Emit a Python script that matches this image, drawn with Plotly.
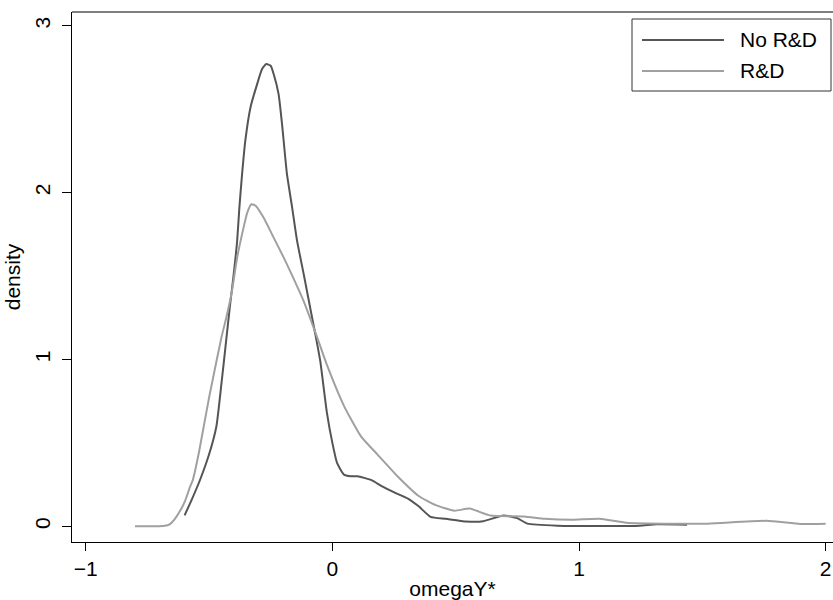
import plotly.graph_objects as go

# ---- data ----
no_rd_x = [-0.599, -0.57, -0.537, -0.5, -0.47, -0.45, -0.43, -0.416, -0.4, -0.386, -0.377,
           -0.366, -0.353, -0.332, -0.305, -0.285, -0.268, -0.25, -0.238, -0.218, -0.204,
           -0.184, -0.163, -0.143, -0.116, -0.09, -0.065, -0.049, -0.022, 0.0, 0.019, 0.047,
           0.075, 0.102, 0.157, 0.198, 0.253, 0.308, 0.35, 0.398, 0.46, 0.543, 0.612, 0.694,
           0.749, 0.791, 0.914, 1.107, 1.245, 1.314, 1.438]
no_rd_y = [0.066, 0.16, 0.276, 0.43, 0.6, 0.85, 1.12, 1.31, 1.51, 1.71, 1.91,
           2.11, 2.31, 2.51, 2.65, 2.74, 2.77, 2.76, 2.71, 2.59, 2.41,
           2.11, 1.91, 1.71, 1.51, 1.31, 1.12, 0.99, 0.68, 0.50, 0.38, 0.31,
           0.30, 0.30, 0.278, 0.243, 0.202, 0.165, 0.12, 0.057, 0.045, 0.029, 0.031, 0.065,
           0.049, 0.016, 0.004, 0.002, 0.004, 0.012, 0.01]

rd_x = [-0.8, -0.72, -0.68, -0.66, -0.643, -0.616, -0.596, -0.577, -0.566, -0.54, -0.5,
        -0.45, -0.43, -0.407, -0.386, -0.36, -0.345, -0.328, -0.31, -0.279, -0.238, -0.197,
        -0.159, -0.118, -0.066, -0.022, 0.047, 0.116, 0.185, 0.268, 0.35, 0.419, 0.495,
        0.557, 0.64, 0.778, 0.861, 0.971, 1.082, 1.192, 1.385, 1.523, 1.759, 1.897, 2.0]
rd_y = [0.0, 0.0, 0.003, 0.012, 0.036, 0.096, 0.156, 0.236, 0.276, 0.45, 0.77,
        1.13, 1.25, 1.41, 1.61, 1.79, 1.88, 1.93, 1.92, 1.85, 1.73, 1.61,
        1.49, 1.355, 1.15, 0.967, 0.722, 0.539, 0.427, 0.294, 0.182, 0.127, 0.094,
        0.106, 0.065, 0.059, 0.045, 0.039, 0.045, 0.022, 0.016, 0.016, 0.033, 0.014, 0.016]

x_ticks = [-1, 0, 1, 2]
y_ticks = [0, 1, 2, 3]
series_names = ["No R&D", "R&D"]
series_colors = ["#555555", "#a0a0a0"]

FONT = "Liberation Sans, Arial, Helvetica, sans-serif"
FS = 21

fig = go.Figure()
fig.add_trace(go.Scatter(x=no_rd_x, y=no_rd_y, mode="lines", name=series_names[0],
                         line=dict(color=series_colors[0], width=2, shape="spline", smoothing=0.5),
                         showlegend=False))
fig.add_trace(go.Scatter(x=rd_x, y=rd_y, mode="lines", name=series_names[1],
                         line=dict(color=series_colors[1], width=2, shape="spline", smoothing=0.5),
                         showlegend=False))

ML, MT, MB, W, H = 72, 12, 58, 833, 600
PW = W - ML
PH = H - MT - MB

def px2paper(px, py):
    return (px - ML) / PW, 1 - (py - MT) / PH

shapes = []
# top frame line
shapes.append(dict(type="line", xref="paper", yref="paper", x0=0, x1=1, y0=1, y1=1,
                   line=dict(color="black", width=1)))
# legend box
bx0, by0 = px2paper(632, 91)
bx1, by1 = px2paper(831, 19)
shapes.append(dict(type="rect", xref="paper", yref="paper", x0=bx0, x1=bx1, y0=by0, y1=by1,
                   line=dict(color="#333333", width=1), fillcolor="white"))
annotations = []
for i, (name, col) in enumerate(zip(series_names, series_colors)):
    py = 40 + i * 31
    lx0, ly = px2paper(642, py)
    lx1, _ = px2paper(724, py)
    shapes.append(dict(type="line", xref="paper", yref="paper", x0=lx0, x1=lx1, y0=ly, y1=ly,
                       line=dict(color=col, width=2)))
    tx, _ = px2paper(738, py)
    annotations.append(dict(xref="paper", yref="paper", x=tx, y=ly, text=name, showarrow=False,
                            xanchor="left", yanchor="middle",
                            font=dict(family=FONT, size=FS, color="black")))

fig.update_layout(
    width=W, height=H,
    margin=dict(l=ML, r=0, t=MT, b=MB, pad=0),
    paper_bgcolor="white", plot_bgcolor="white",
    font=dict(family=FONT, size=FS, color="black"),
    shapes=shapes, annotations=annotations,
    showlegend=False,
)
fig.update_xaxes(range=[-1.0555, 2.0296], tickvals=x_ticks, ticks="outside", ticklen=8,
                 tickwidth=1, tickcolor="black", showline=True, linecolor="black", linewidth=1,
                 showgrid=False, zeroline=False,
                 title=dict(text="omegaY*", standoff=4, font=dict(size=FS)),
                 tickfont=dict(size=FS))
fig.update_yaxes(range=[-0.094, 3.082], tickvals=y_ticks, ticks="outside", ticklen=9,
                 tickwidth=1, tickcolor="black", showline=True, linecolor="black", linewidth=1,
                 showgrid=False, zeroline=False, tickangle=-90, ticklabelstandoff=4,
                 title=dict(text="density", standoff=4, font=dict(size=FS)),
                 tickfont=dict(size=FS))

fig.write_html("out.html", config={"displayModeBar": False},
               post_script="document.body.style.margin='0px';document.body.style.overflow='hidden';")
